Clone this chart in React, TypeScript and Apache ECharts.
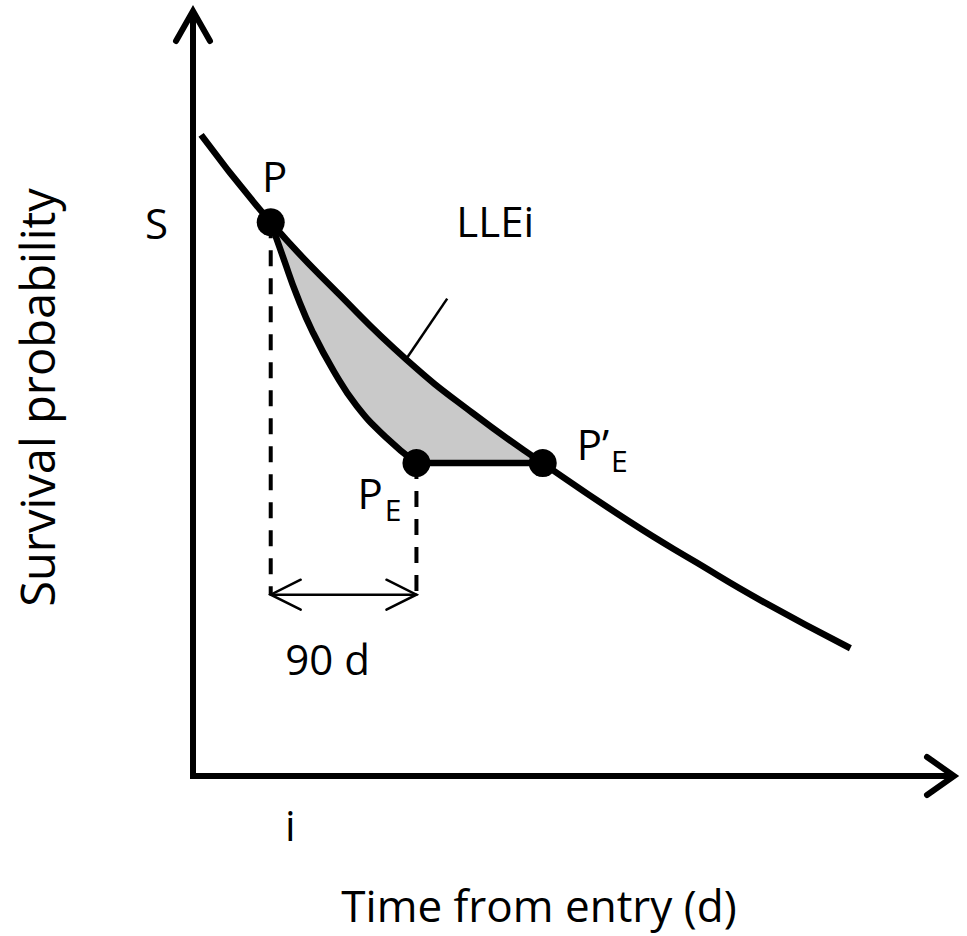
import React, { useEffect, useRef } from "react";
import * as echarts from "echarts";

// ---- data (time in days, survival probability) ----
const X_MAX = 470;
const Y_MAX = 1;

const UPPER_T = [5, 48, 91, 132, 173, 216, 270, 311, 352, 406];
const UPPER_S = [0.838, 0.724, 0.628, 0.544, 0.474, 0.409, 0.332, 0.279, 0.228, 0.167];

const LOWER_T = [48, 56, 64, 74, 87, 101, 119, 138];
const LOWER_S = [0.724, 0.676, 0.629, 0.58, 0.529, 0.484, 0.443, 0.409];

const POINT_LABELS = ["{a|P}", "{a|P}{b|E}", "{a|P\u2019}{b|E}"];
const POINT_T = [48, 138, 216];
const POINT_S = [0.724, 0.409, 0.409];

const ARROW_S = 0.237; // level of the 90-day arrow
const GAP_LABEL = "90 d";

const POINTER_T = [132, 157];
const POINTER_S = [0.546, 0.624];
const POINTER_LABEL = "LLEi";

const X_TICK_VALUES = [48];
const X_TICK_LABELS = ["i"];
const Y_TICK_VALUES = [0.724];
const Y_TICK_LABELS = ["S"];

const X_NAME = "Time from entry (d)";
const Y_NAME = "Survival probability";

// ---- styles ----
const FONT = '"Open Sans", "Noto Sans", sans-serif';
const BLACK = "#000000";
const SHADE = "#c9c9c9";

const zip = (a: number[], b: number[]) => a.map((v, i) => [v, b[i]]);

const LABEL_OFFSETS: [number, number][] = [
  [4, -47],
  [-59, 29],
  [34, -20],
];
const LABEL_ALIGN = ["center", "left", "left"];

const rich = {
  a: { fontSize: 42, lineHeight: 50, color: BLACK, fontFamily: FONT },
  b: { fontSize: 30, lineHeight: 30, padding: [34, 0, 0, 2], color: BLACK, fontFamily: FONT },
};

function buildOption(): any {
  const pT = POINT_T[0];
  const peT = POINT_T[1];
  const ppeT = POINT_T[2];
  const upperPart = UPPER_T.map((t, i) => [t, UPPER_S[i]]).filter((d) => d[0] >= pT && d[0] <= ppeT);
  const lowerPart = LOWER_T.map((t, i) => [t, LOWER_S[i]]).filter((d) => d[0] >= pT && d[0] <= peT).reverse();
  const shadePts = upperPart.concat(lowerPart);

  return {
    animation: false,
    backgroundColor: "#ffffff",
    grid: { left: 193, right: 13, top: 11, bottom: 160, outerBoundsMode: "none" },
    xAxis: {
      type: "value",
      min: 0,
      max: X_MAX,
      name: X_NAME,
      nameLocation: "middle",
      nameGap: 107,
      nameTextStyle: { fontSize: 44, lineHeight: 44, fontFamily: FONT, color: BLACK, padding: [0, 69, 0, 0] },
      axisLine: { show: false },
      axisTick: { show: false },
      splitLine: { show: false },
      axisLabel: {
        customValues: X_TICK_VALUES,
        formatter: (v: number) => X_TICK_LABELS[X_TICK_VALUES.indexOf(v)] ?? "",
        fontSize: 42,
        fontFamily: FONT,
        color: BLACK,
        margin: 27,
        padding: [0, 0, 0, 39],
      },
    },
    yAxis: {
      type: "value",
      min: 0,
      max: Y_MAX,
      name: Y_NAME,
      nameLocation: "middle",
      nameRotate: 90,
      nameGap: 133,
      nameTextStyle: { fontSize: 47, lineHeight: 47, fontFamily: FONT, color: BLACK, padding: [0, 8, 0, 0] },
      axisLine: { show: false },
      axisTick: { show: false },
      splitLine: { show: false },
      axisLabel: {
        customValues: Y_TICK_VALUES,
        formatter: (v: number) => Y_TICK_LABELS[Y_TICK_VALUES.indexOf(v)] ?? "",
        fontSize: 42,
        fontFamily: FONT,
        color: BLACK,
        margin: 25,
        padding: [0, 0, 8, 0],
      },
    },
    series: [
      {
        type: "custom",
        name: "shade",
        silent: true,
        z: 1,
        data: [[0, 0]],
        renderItem: (params: any, api: any) => ({
          type: "polygon",
          shape: { points: shadePts.map((d) => api.coord(d)) },
          style: { fill: SHADE, stroke: null },
        }),
      },
      {
        type: "custom",
        name: "axes",
        silent: true,
        z: 5,
        data: [[X_MAX, Y_MAX]],
        renderItem: (params: any, api: any) => {
          const xEnd = api.coord([api.value(0), 0]);
          const origin = api.coord([0, 0]);
          const yEnd = api.coord([0, api.value(1)]);
          const st = { stroke: BLACK, lineWidth: 6, fill: "none", lineJoin: "miter", lineCap: "round" };
          return {
            type: "group",
            children: [
              { type: "polyline", shape: { points: [xEnd, origin, yEnd] }, style: { ...st, lineCap: "butt" } },
              {
                type: "polyline",
                shape: { points: [[xEnd[0] - 27, xEnd[1] - 19], xEnd, [xEnd[0] - 27, xEnd[1] + 19]] },
                style: st,
              },
              {
                type: "polyline",
                shape: { points: [[yEnd[0] - 17, yEnd[1] + 30], yEnd, [yEnd[0] + 17, yEnd[1] + 30]] },
                style: st,
              },
            ],
          };
        },
      },
      {
        type: "line",
        name: "dashP",
        silent: true,
        z: 3,
        symbol: "none",
        data: [
          [POINT_T[0], POINT_S[0]],
          [POINT_T[0], ARROW_S],
        ],
        lineStyle: { color: BLACK, width: 4, type: [16, 12] },
      },
      {
        type: "line",
        name: "dashPE",
        silent: true,
        z: 3,
        symbol: "none",
        data: [
          [POINT_T[1], POINT_S[1]],
          [POINT_T[1], ARROW_S],
        ],
        lineStyle: { color: BLACK, width: 4, type: [16, 12] },
      },
      {
        type: "custom",
        name: "gapArrow",
        silent: true,
        z: 4,
        data: [[POINT_T[0], ARROW_S, POINT_T[1]]],
        renderItem: (params: any, api: any) => {
          const a = api.coord([api.value(0), api.value(1)]);
          const b = api.coord([api.value(2), api.value(1)]);
          const st = { stroke: BLACK, lineWidth: 2.5, fill: "none", lineCap: "round", lineJoin: "miter" };
          return {
            type: "group",
            children: [
              { type: "line", shape: { x1: a[0], y1: a[1], x2: b[0], y2: b[1] }, style: st },
              { type: "polyline", shape: { points: [[a[0] + 30, a[1] - 15], a, [a[0] + 30, a[1] + 15]] }, style: st },
              { type: "polyline", shape: { points: [[b[0] - 30, b[1] - 15], b, [b[0] - 30, b[1] + 15]] }, style: st },
              {
                type: "text",
                x: (a[0] + b[0]) / 2 - 16,
                y: a[1] + 64,
                style: {
                  text: GAP_LABEL,
                  fill: BLACK,
                  fontSize: 42,
                  fontFamily: FONT,
                  align: "center",
                  verticalAlign: "middle",
                },
              },
            ],
          };
        },
      },
      {
        type: "custom",
        name: "pointer",
        silent: true,
        z: 4,
        data: [[POINTER_T[0], POINTER_S[0], POINTER_T[1], POINTER_S[1]]],
        renderItem: (params: any, api: any) => {
          const a = api.coord([api.value(0), api.value(1)]);
          const b = api.coord([api.value(2), api.value(3)]);
          return {
            type: "group",
            children: [
              {
                type: "line",
                shape: { x1: a[0], y1: a[1], x2: b[0], y2: b[1] },
                style: { stroke: BLACK, lineWidth: 2.5 },
              },
              {
                type: "text",
                x: b[0] + 48,
                y: b[1] - 78,
                style: {
                  text: POINTER_LABEL,
                  fill: BLACK,
                  fontSize: 42,
                  fontFamily: FONT,
                  align: "center",
                  verticalAlign: "middle",
                },
              },
            ],
          };
        },
      },
      {
        type: "line",
        name: "upper",
        silent: true,
        z: 6,
        symbol: "none",
        smooth: 0.5,
        data: zip(UPPER_T, UPPER_S),
        lineStyle: { color: BLACK, width: 6.5, cap: "butt" },
      },
      {
        type: "line",
        name: "lower",
        silent: true,
        z: 6,
        symbol: "none",
        smooth: 0.5,
        data: zip(LOWER_T, LOWER_S),
        lineStyle: { color: BLACK, width: 6.5 },
      },
      {
        type: "line",
        name: "level",
        silent: true,
        z: 6,
        symbol: "none",
        data: [
          [POINT_T[1], POINT_S[1]],
          [POINT_T[2], POINT_S[2]],
        ],
        lineStyle: { color: BLACK, width: 6.5 },
      },
      {
        type: "scatter",
        name: "points",
        silent: true,
        z: 8,
        symbol: "circle",
        symbolSize: 28,
        itemStyle: { color: BLACK, opacity: 1 },
        data: POINT_T.map((t, i) => ({
          value: [t, POINT_S[i]],
          label: {
            show: true,
            position: "inside",
            formatter: POINT_LABELS[i],
            offset: LABEL_OFFSETS[i],
            align: LABEL_ALIGN[i],
            verticalAlign: "middle",
            color: BLACK,
            opacity: 1,
            rich,
          },
        })),
      },
    ],
  };
}

export default function App() {
  const ref = useRef<HTMLDivElement>(null);
  useEffect(() => {
    document.body.style.margin = "0";
    const chart = echarts.init(ref.current as HTMLDivElement, null, { renderer: "svg" });
    chart.setOption(buildOption());
    return () => chart.dispose();
  }, []);
  return <div ref={ref} style={{ width: 967, height: 936, background: "#fff" }} />;
}
